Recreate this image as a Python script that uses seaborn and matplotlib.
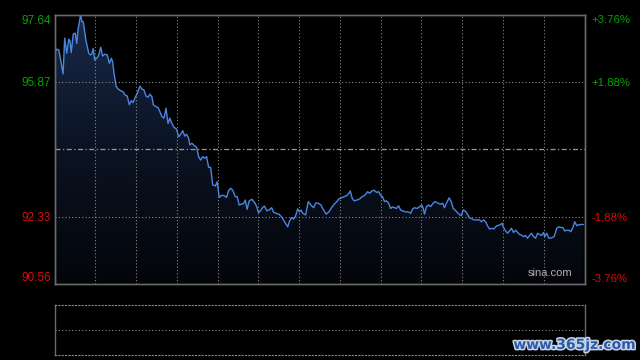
import numpy as np
import pandas as pd
import seaborn as sns
import matplotlib
matplotlib.use("Agg")
import matplotlib.pyplot as plt
import matplotlib.patheffects as pe

# ---- data ----
minutes = [0, 1.1, 2.1, 3.0, 4.2, 5.0, 6.0, 7.0, 7.6, 8.2, 9.2, 10.2, 10.9, 11.5, 12.8, 13.5, 14.1,
           15.4, 16.8, 17.8, 18.4, 19.0, 19.7, 20.7, 21.7, 22.7, 23.6, 24.6, 25.9, 26.9, 27.9, 28.5,
           29.2, 30.2, 31.1, 32.5, 33.7, 34.7, 35.7, 36.7, 37.7, 38.6, 39.6, 40.6, 41.9, 42.9, 43.9,
           44.9, 45.9, 46.8, 47.8, 48.5, 49.8, 50.8, 51.7, 52.7, 53.7, 54.7, 55.7, 56.6, 57.6, 58.6,
           59.9, 60.9, 61.9, 62.9, 63.9, 64.8, 65.8, 66.4, 67.4, 68.8, 69.7, 70.7, 71.7, 72.7, 73.7,
           74.6, 75.6, 76.6, 77.6, 78.9, 79.8, 80.8, 82.1, 83.5, 84.4, 85.4, 86.4, 87.4, 88.7, 89.6,
           90.6, 91.9, 92.6, 93.6, 94.5, 95.5, 96.9, 98.2, 99.2, 100.1, 101.1, 102.1, 103.1, 104.1,
           105.3, 106.5, 107.5, 108.8, 110.1, 111.4, 112.7, 113.7, 114.4, 115.3, 116.3, 117.3, 118.3,
           119.3, 120.2, 120.9, 121.9, 123.2, 124.5, 125.8, 127.1, 128.1, 129.4, 130.7, 132.0, 133.3,
           134.6, 135.9, 137.2, 138.5, 139.5, 140.8, 142.1, 143.4, 144.4, 145.1, 146.0, 147.0, 148.3,
           149.7, 150.9, 152.3, 153.6, 154.6, 155.7, 156.7, 158.0, 159.0, 160.0, 160.9, 161.9, 162.9,
           163.9, 164.9, 165.8, 166.8, 167.8, 168.8, 169.8, 171.0, 172.4, 173.7, 174.7, 175.7, 176.6,
           177.9, 179.2, 180.2, 180.9, 181.5, 182.5, 183.5, 184.5, 185.8, 186.7, 188.1, 189.4, 190.4,
           191.3, 192.3, 193.6, 194.6, 195.6, 196.5, 197.5, 198.5, 199.5, 200.5, 201.5, 202.4, 203.4,
           204.4, 205.7, 207.0, 208.5, 209.5, 210.5, 211.5, 212.4, 213.4, 214.4, 215.4, 216.4, 217.3,
           218.6, 219.6, 220.3, 221.3, 222.2, 223.2, 224.2, 225.2, 226.2, 227.2, 228.1, 229.1, 230.1,
           231.1, 232.1, 233.0, 234.0, 235.0, 236.0, 237.0, 237.9, 238.9, 239.9, 240.5, 241.5, 242.5,
           243.8, 245.1, 246.4, 247.4, 248.4, 249.4, 250.3, 251.3, 252.3, 253.3, 254.3, 255.2, 256.2,
           257.2, 258.0, 259.5]
prices = [96.64, 96.73, 96.71, 96.45, 96.08, 97.02, 96.62, 96.99, 96.95, 96.64, 97.13, 97.15, 96.88,
          97.23, 97.63, 97.45, 97.45, 96.97, 96.62, 96.58, 96.62, 96.75, 96.45, 96.49, 96.58, 96.78,
          96.55, 96.60, 96.58, 96.36, 96.49, 96.40, 96.10, 95.76, 95.69, 95.64, 95.61, 95.52, 95.50,
          95.27, 95.38, 95.33, 95.47, 95.57, 95.76, 95.68, 95.66, 95.50, 95.47, 95.55, 95.48, 95.27,
          95.22, 95.20, 95.09, 94.96, 94.92, 95.18, 94.78, 94.92, 94.78, 94.68, 94.63, 94.43, 94.50,
          94.59, 94.45, 94.50, 94.39, 94.22, 94.26, 94.19, 94.16, 93.91, 93.82, 93.91, 93.87, 93.91,
          93.63, 93.63, 93.17, 93.14, 93.25, 92.84, 92.90, 92.88, 92.84, 93.02, 93.08, 93.03, 92.86,
          92.86, 92.64, 92.67, 92.67, 92.77, 92.53, 92.75, 92.79, 92.70, 92.60, 92.44, 92.49, 92.58,
          92.61, 92.49, 92.51, 92.57, 92.45, 92.42, 92.40, 92.33, 92.22, 92.13, 92.07, 92.22, 92.31,
          92.27, 92.36, 92.54, 92.46, 92.51, 92.42, 92.38, 92.73, 92.64, 92.57, 92.69, 92.69, 92.64,
          92.51, 92.40, 92.46, 92.57, 92.66, 92.73, 92.80, 92.83, 92.86, 92.89, 92.95, 93.01, 92.82,
          92.75, 92.77, 92.80, 92.86, 92.90, 92.99, 92.95, 93.01, 93.03, 92.97, 92.99, 92.89, 92.86,
          92.73, 92.75, 92.69, 92.55, 92.59, 92.57, 92.55, 92.62, 92.51, 92.48, 92.46, 92.46, 92.42,
          92.54, 92.57, 92.55, 92.60, 92.64, 92.55, 92.40, 92.60, 92.64, 92.60, 92.69, 92.73, 92.69,
          92.66, 92.69, 92.57, 92.69, 92.83, 92.73, 92.55, 92.51, 92.45, 92.40, 92.36, 92.51, 92.48,
          92.42, 92.31, 92.29, 92.25, 92.25, 92.25, 92.20, 92.25, 92.20, 92.10, 92.01, 92.03, 92.01,
          92.07, 92.10, 92.12, 92.16, 92.05, 91.96, 91.90, 91.96, 92.03, 91.92, 91.98, 91.92, 91.87,
          91.85, 91.81, 91.84, 91.77, 91.84, 91.90, 91.81, 91.77, 91.90, 91.87, 91.84, 91.92, 91.81,
          91.90, 91.77, 91.78, 91.81, 92.03, 92.07, 92.05, 92.05, 91.96, 91.98, 91.98, 91.94, 92.05,
          92.20, 92.10, 92.12, 92.13, 92.13]

prev_close = 94.10
price_ticks = [90.56, 92.33, 95.87, 97.64]
price_labels = ["90.56", "92.33", "95.87", "97.64"]
pct_labels = ["-3.76%", "-1.88%", "+1.88%", "+3.76%"]
session_len = 260
grid_step = 20

df = pd.DataFrame({"minute": minutes, "price": prices})

# ---- style ----
sns.set_theme(style="dark")
plt.rcParams["font.family"] = ["Liberation Sans", "DejaVu Sans"]

BG = "#000000"
SPINE = "#6a6a6a"
GRID = "#8a8a8a"
LINE = "#4a86e0"
GREEN = "#06a006"
RED = "#d80c0c"

fig = plt.figure(figsize=(6.4, 3.6), dpi=100, facecolor=BG)
ax = fig.add_axes([54.5 / 640, 1 - 284.3 / 360, 530 / 640, (284.3 - 14.5) / 360])
ax2 = fig.add_axes([54.5 / 640, 1 - 354.5 / 360, 530 / 640, (354.5 - 305) / 360])

lo, hi = 90.56, 97.64
for a in (ax, ax2):
    a.set_facecolor(BG)
    a.set_xlim(0, session_len)
    a.grid(False)

ax.set_ylim(lo, hi)

# gradient area under the line
poly = ax.fill_between(df["minute"], df["price"], lo, color="none", lw=0)
grad = np.linspace(0, 1, 256).reshape(-1, 1)
cmap = matplotlib.colors.LinearSegmentedColormap.from_list(
    "g", ["#03050a", "#0b1322", "#19294a"])
im = ax.imshow(grad, cmap=cmap, aspect="auto", origin="lower",
               extent=[0, session_len, lo, hi], zorder=1)
path = poly.get_paths()[0]
im.set_clip_path(path, transform=ax.transData)

# grid
for x in range(grid_step, session_len, grid_step):
    ax.axvline(x, color=GRID, lw=0.8, ls=(0, (1, 2)), zorder=2)
for y in (92.33, 95.87):
    ax.axhline(y, color=GRID, lw=0.8, ls=(0, (1, 2)), zorder=2)
ax.axhline(prev_close, color="#9a9a9a", lw=0.9, ls=(0, (4, 2, 1, 2)), zorder=2)

sns.lineplot(data=df, x="minute", y="price", ax=ax, color=LINE, lw=1.0, zorder=3)

ax.set_xlabel("")
ax.set_ylabel("")
ax.set_xticks([])
ax.set_yticks(price_ticks)
ax.set_yticklabels(price_labels)
ax.tick_params(axis="y", length=0, pad=2.5, labelsize=8.5)

axr = ax.twinx()
axr.set_ylim(lo, hi)
axr.set_yticks(price_ticks)
axr.set_yticklabels(pct_labels)
axr.tick_params(axis="y", length=0, pad=5, labelsize=8.2)
axr.grid(False)

for a in (ax, axr):
    labs = a.get_yticklabels()
    for lab, v in zip(labs, price_ticks):
        lab.set_color(GREEN if v > prev_close else RED)
        if v == hi:
            lab.set_va("top")
        elif v == lo:
            lab.set_va("bottom")
    for s in a.spines.values():
        s.set_color(SPINE)
        s.set_linewidth(1.0)
        s.set_visible(True)

ax.text(0.977, 0.022, "sina.com", transform=ax.transAxes, ha="right", va="bottom",
        color="#b0b0b0", fontsize=8, zorder=5)

# lower (volume) panel
ax2.set_ylim(0, 2)
ax2.set_xticks([])
ax2.set_yticks([])
ax2.axhline(1, color=GRID, lw=0.8, ls=(0, (1, 2)))
for side in ("left", "right"):
    ax2.spines[side].set_color(SPINE)
    ax2.spines[side].set_linewidth(1.0)
for side in ("top", "bottom"):
    ax2.spines[side].set_color(GRID)
    ax2.spines[side].set_linewidth(0.8)
    ax2.spines[side].set_linestyle((0, (1, 2)))

# watermark
fig.text(0.993, 0.042, "www.365jz.com", ha="right", va="center", fontsize=10,
         fontweight="bold", family=["DejaVu Sans"], color="#2a5aa8",
         path_effects=[pe.withStroke(linewidth=2.2, foreground="#c8d4e8")])

fig.savefig("out.png", dpi=100, facecolor=BG)
